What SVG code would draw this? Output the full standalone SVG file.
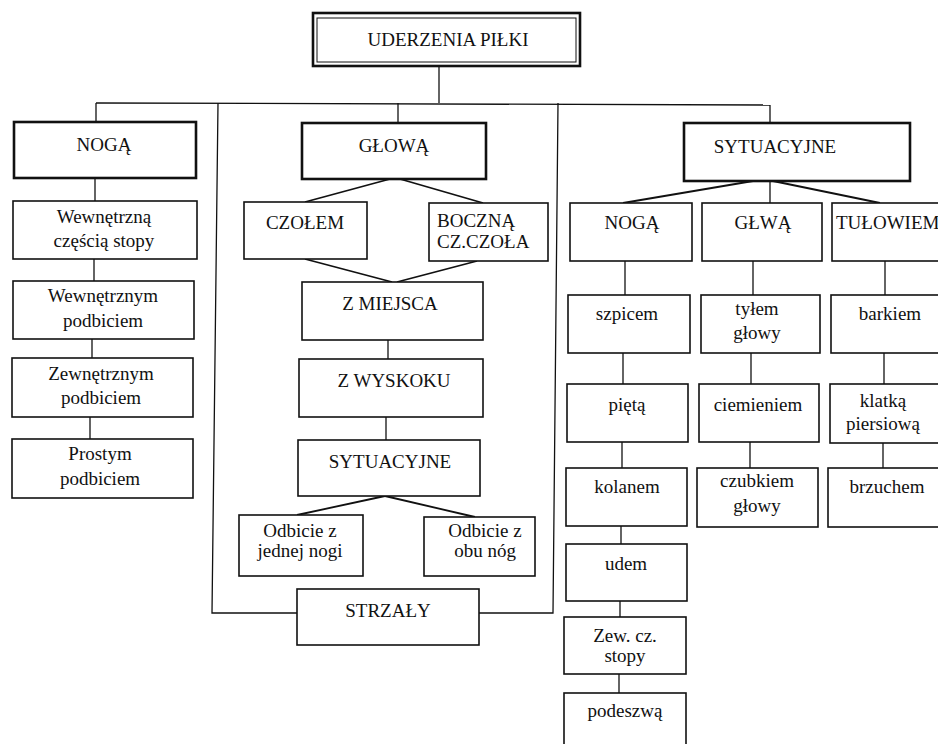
<svg xmlns="http://www.w3.org/2000/svg" width="938" height="744" viewBox="0 0 938 744">
<style>
text{font-family:"Liberation Serif","Times New Roman",serif;font-size:19px;fill:#111;text-anchor:middle}
.s{text-anchor:start}
rect{fill:#fff;stroke:#111;stroke-width:1.6}
.b{stroke-width:2.6}
.thin{stroke-width:1}
#connectors line,#connectors polyline{stroke:#111;stroke-width:1.3;fill:none}
#connectors .v{stroke-width:1.8}
</style>
<rect x="0" y="0" width="938" height="744" style="fill:#fff;stroke:none"/>
<g id="connectors">
<line x1="439" y1="66" x2="439" y2="103"/>
<polyline points="96,103 770,105"/>
<line x1="96" y1="103" x2="96" y2="122"/>
<polyline points="218,103 212,613 297,613"/>
<line x1="398" y1="103" x2="398" y2="123"/>
<polyline points="558,103 553,613 479,613"/>
<line x1="770" y1="105" x2="770" y2="123"/>
<line x1="95" y1="178" x2="95" y2="201"/>
<line x1="94" y1="259" x2="94" y2="281"/>
<line x1="92" y1="339" x2="92" y2="358"/>
<line x1="90" y1="417" x2="90" y2="439"/>
<line class="v" x1="390" y1="179" x2="305" y2="202"/>
<line class="v" x1="400" y1="179" x2="483" y2="203"/>
<line class="v" x1="305" y1="259" x2="392" y2="282"/>
<line class="v" x1="477" y1="261" x2="397" y2="282"/>
<line x1="388" y1="340" x2="388" y2="359"/>
<line x1="386" y1="417" x2="386" y2="440"/>
<line class="v" x1="385" y1="496" x2="297" y2="515"/>
<line class="v" x1="385" y1="496" x2="475" y2="517"/>
<line class="v" x1="753" y1="181" x2="623" y2="203"/>
<line class="v" x1="773" y1="181" x2="880" y2="203"/>
<line x1="770" y1="181" x2="770" y2="203"/>
<line x1="625" y1="261" x2="625" y2="295"/>
<line x1="753" y1="261" x2="753" y2="295"/>
<line x1="885" y1="261" x2="885" y2="295"/>
<line x1="623" y1="353" x2="623" y2="384"/>
<line x1="751" y1="353" x2="751" y2="384"/>
<line x1="884" y1="353" x2="884" y2="384"/>
<line x1="622" y1="442" x2="622" y2="468"/>
<line x1="750" y1="442" x2="750" y2="468"/>
<line x1="883" y1="443" x2="883" y2="468"/>
<line x1="621" y1="526" x2="621" y2="544"/>
<line x1="620" y1="601" x2="620" y2="617"/>
<line x1="619" y1="674" x2="619" y2="693"/>
</g>
<g id="n-top"><rect class="b" x="313" y="13" width="267" height="53"/><rect class="thin" x="317" y="18" width="259" height="44"/><text x="448" y="46">UDERZENIA PIŁKI</text></g>
<g id="n-noga"><rect class="b" x="14" y="122" width="182" height="56"/><text x="104" y="151">NOGĄ</text></g>
<g id="n-glowa"><rect class="b" x="302" y="123" width="184" height="56"/><text x="394" y="152">GŁOWĄ</text></g>
<g id="n-syt"><rect class="b" x="684" y="123" width="226" height="58"/><text x="775" y="153">SYTUACYJNE</text></g>
<g id="n-l1"><rect x="13" y="201" width="184" height="58"/><text x="104" y="223">Wewnętrzną</text><text x="104" y="247">częścią stopy</text></g>
<g id="n-l2"><rect x="13" y="281" width="181" height="58"/><text x="103" y="302">Wewnętrznym</text><text x="103" y="327">podbiciem</text></g>
<g id="n-l3"><rect x="12" y="358" width="181" height="59"/><text x="101" y="380">Zewnętrznym</text><text x="101" y="404">podbiciem</text></g>
<g id="n-l4"><rect x="12" y="439" width="181" height="59"/><text x="100" y="460">Prostym</text><text x="100" y="485">podbiciem</text></g>
<g id="n-czolem"><rect x="244" y="202" width="123" height="57"/><text x="305" y="229">CZOŁEM</text></g>
<g id="n-boczna"><rect x="429" y="203" width="119" height="58"/><text class="s" x="437" y="227">BOCZNĄ</text><text class="s" x="437" y="248">CZ.CZOŁA</text></g>
<g id="n-zmiejsca"><rect x="302" y="282" width="181" height="58"/><text x="390" y="310">Z MIEJSCA</text></g>
<g id="n-zwyskoku"><rect x="299" y="359" width="184" height="58"/><text x="394" y="387">Z WYSKOKU</text></g>
<g id="n-sytm"><rect x="298" y="440" width="182" height="56"/><text x="390" y="468">SYTUACYJNE</text></g>
<g id="n-odb1"><rect x="239" y="515" width="124" height="61"/><text x="300" y="537">Odbicie z</text><text x="300" y="557">jednej nogi</text></g>
<g id="n-odb2"><rect x="424" y="517" width="111" height="59"/><text x="485" y="537">Odbicie z</text><text x="485" y="557">obu nóg</text></g>
<g id="n-strzaly"><rect x="297" y="589" width="182" height="56"/><text x="388" y="617">STRZAŁY</text></g>
<g id="n-nogar"><rect x="570" y="203" width="122" height="58"/><text x="632" y="229">NOGĄ</text></g>
<g id="n-glwa"><rect x="702" y="203" width="120" height="58"/><text x="763" y="229">GŁWĄ</text></g>
<g id="n-tulowiem"><rect x="832" y="203" width="120" height="58"/><text class="s" x="836" y="229">TUŁOWIEM</text></g>
<g id="n-szpicem"><rect x="568" y="295" width="122" height="58"/><text x="627" y="320">szpicem</text></g>
<g id="n-tylem"><rect x="701" y="295" width="119" height="58"/><text x="757" y="315">tyłem</text><text x="757" y="339">głowy</text></g>
<g id="n-barkiem"><rect x="831" y="295" width="120" height="58"/><text x="890" y="320">barkiem</text></g>
<g id="n-pieta"><rect x="567" y="384" width="121" height="58"/><text x="627" y="411">piętą</text></g>
<g id="n-ciem"><rect x="699" y="384" width="120" height="58"/><text x="758" y="411">ciemieniem</text></g>
<g id="n-klatka"><rect x="830" y="384" width="120" height="59"/><text x="883" y="407">klatką</text><text x="883" y="430">piersiową</text></g>
<g id="n-kolanem"><rect x="566" y="468" width="121" height="58"/><text x="627" y="493">kolanem</text></g>
<g id="n-czubkiem"><rect x="697" y="468" width="121" height="59"/><text x="757" y="487">czubkiem</text><text x="757" y="512">głowy</text></g>
<g id="n-brzuchem"><rect x="828" y="468" width="120" height="59"/><text x="887" y="493">brzuchem</text></g>
<g id="n-udem"><rect x="566" y="544" width="121" height="57"/><text x="626" y="570">udem</text></g>
<g id="n-zew"><rect x="564" y="617" width="122" height="57"/><text x="625" y="642">Zew. cz.</text><text x="625" y="662">stopy</text></g>
<g id="n-podeszwa"><rect x="564" y="693" width="122" height="60"/><text x="625" y="717">podeszwą</text></g>
</svg>
